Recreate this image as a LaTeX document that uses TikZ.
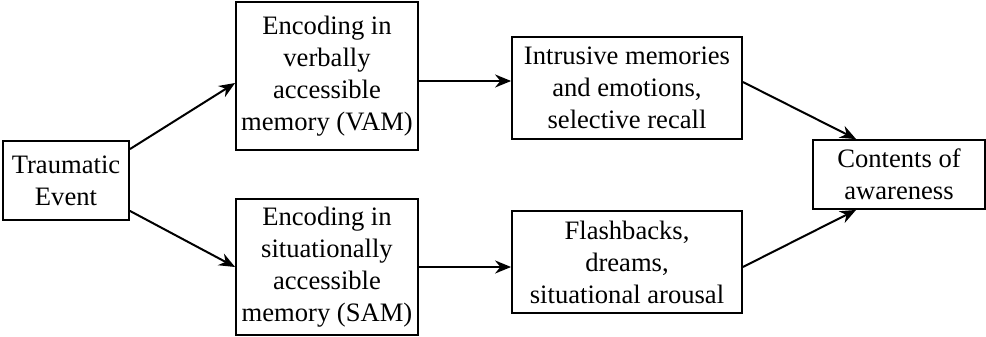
\documentclass[tikz,border=0pt]{standalone}
\usepackage{fontspec}
\setmainfont{Liberation Serif}
\usetikzlibrary{arrows.meta,calc}
\begin{document}
\begin{tikzpicture}[x=0.5pt,y=-0.5pt,
  box/.style={draw,line width=0.9pt,align=center,inner sep=0pt,font=\fontsize{13.3}{16}\selectfont},
  arr/.style={line width=1pt,-{Stealth[length=8pt,width=6.5pt]}}]
\useasboundingbox (0,0) rectangle (986,337);
\node[box,minimum width=63pt,minimum height=39.5pt] (trauma) at (66,180.5) {Traumatic\\Event};
\node[box,minimum width=91pt,minimum height=74pt] (vam) at (327,76) {Encoding in\\verbally\\accessible\\memory (VAM)};
\node[box,minimum width=91pt,minimum height=68pt] (sam) at (327,267) {Encoding in\\situationally\\accessible\\memory (SAM)};
\node[box,minimum width=115pt,minimum height=51pt] (intr) at (627,88) {Intrusive memories\\and emotions,\\selective recall};
\node[box,minimum width=115pt,minimum height=51pt] (flash) at (627,262) {Flashbacks,\\dreams,\\situational arousal};
\node[box,minimum width=86pt,minimum height=34.5pt] (cont) at (899,174.5) {Contents of\\awareness};
\draw[arr] ([yshift=-4.5pt]trauma.north east) -- ([yshift=-3.5pt]vam.west);
\draw[arr] ([yshift=5pt]trauma.south east) -- (sam.west);
\draw[arr] ([yshift=-2.5pt]vam.east) -- ([yshift=-2.5pt]vam.east -| intr.west);
\draw[arr] (sam.east) -- (sam.east -| flash.west);
\draw[arr] ([yshift=3pt]intr.east) -- ([xshift=22pt]cont.north west);
\draw[arr] ([yshift=-2.5pt]flash.east) -- ([xshift=22pt]cont.south west);
\end{tikzpicture}
\end{document}
